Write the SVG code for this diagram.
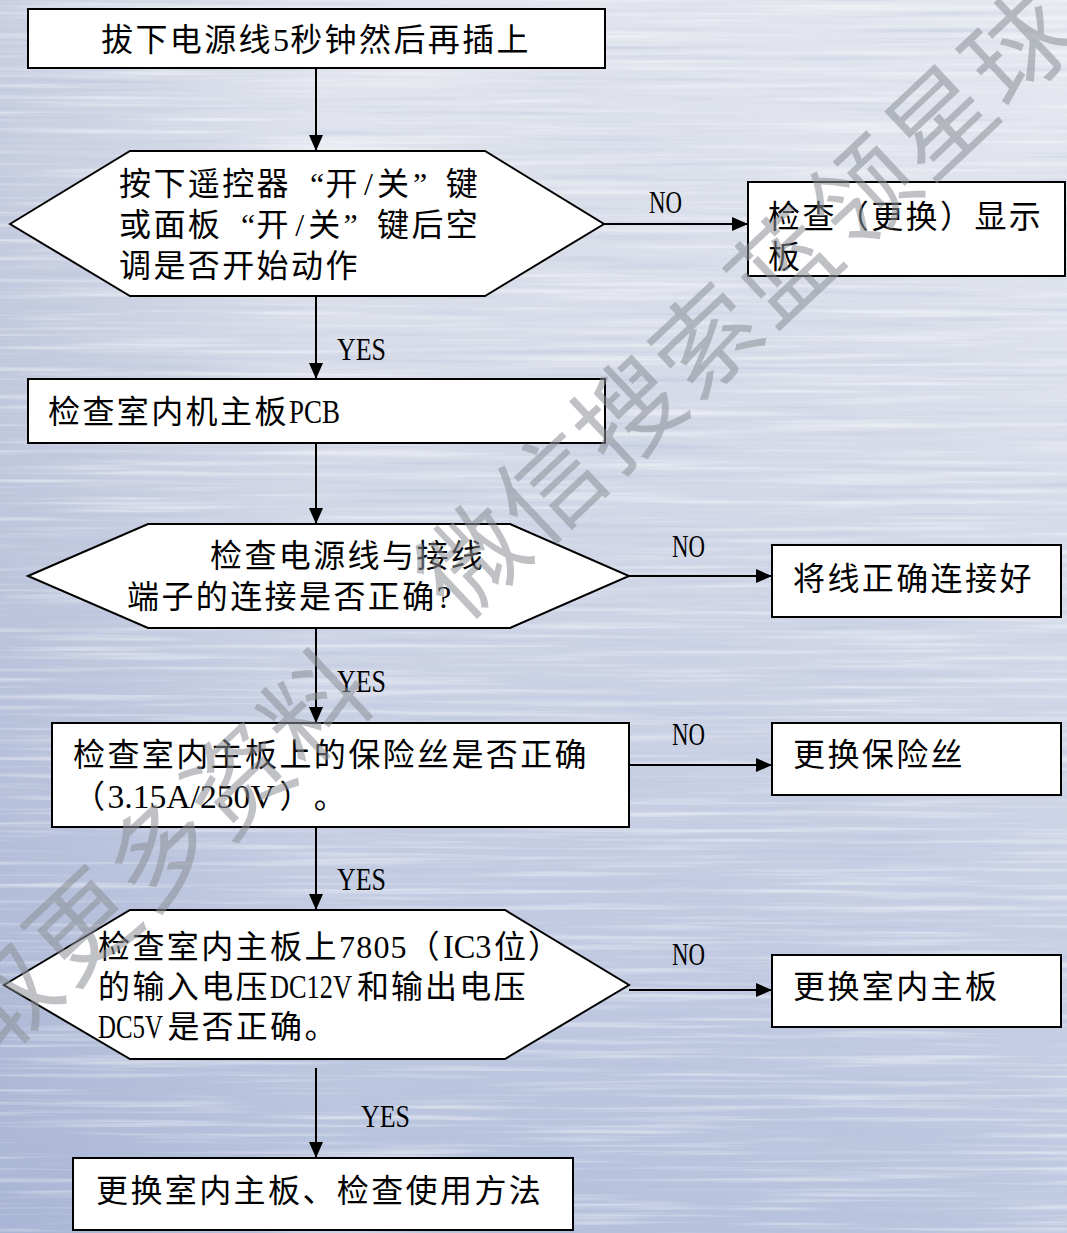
<svg xmlns="http://www.w3.org/2000/svg" width="1067" height="1233" viewBox="0 0 1067 1233">
<defs>
<linearGradient id="bg" x1="0" y1="0" x2="0" y2="1">
<stop offset="0" stop-color="#e3e6ee"/>
<stop offset="0.35" stop-color="#d6dbe8"/>
<stop offset="0.7" stop-color="#c5cde3"/>
<stop offset="1" stop-color="#b5c1dc"/>
</linearGradient>
<linearGradient id="side" x1="0" y1="0" x2="1" y2="0">
<stop offset="0" stop-color="#8796c0" stop-opacity="0.28"/>
<stop offset="0.3" stop-color="#8796c0" stop-opacity="0"/>
<stop offset="1" stop-color="#ffffff" stop-opacity="0.12"/>
</linearGradient>
<filter id="brush" x="0" y="0" width="1067" height="1233" filterUnits="userSpaceOnUse">
<feTurbulence type="fractalNoise" baseFrequency="0.004 0.18" numOctaves="3" seed="3" result="n"/>
<feColorMatrix in="n" type="matrix" values="0 0 0 0 1  0 0 0 0 1  0 0 0 0 1  3 0 0 0 -1.5" result="light"/>
<feColorMatrix in="n" type="matrix" values="0 0 0 0 0.45  0 0 0 0 0.52  0 0 0 0 0.72  -3 0 0 0 1.2" result="dark"/>
<feMerge><feMergeNode in="dark"/><feMergeNode in="light"/></feMerge>
</filter>
<marker id="arr" viewBox="0 0 16 14" refX="16" refY="7" markerWidth="16" markerHeight="14" orient="auto" markerUnits="userSpaceOnUse">
<path d="M0,0 L16,7 L0,14 Z" fill="#000"/>
</marker>
<style>
.box{fill:#fff;stroke:#000;stroke-width:2}
.t{font-family:"Liberation Serif","Noto Sans CJK SC",serif;font-size:32px;fill:#000}
.la{font-family:"Liberation Serif",serif;font-size:34px;fill:#000}
.lbl{font-family:"Liberation Serif",serif;font-size:32px;fill:#000}
.wire{stroke:#000;stroke-width:2;fill:none;marker-end:url(#arr)}
.wm{font-family:"Noto Sans CJK SC",sans-serif;font-size:104px;letter-spacing:3px;fill:#8c9097;opacity:0.55}
</style>
</defs>

<g id="background">
<rect width="1067" height="1233" fill="url(#bg)"/>
<rect width="1067" height="1233" fill="url(#side)"/>
<rect width="1067" height="1233" filter="url(#brush)" opacity="0.45"/>
</g>

<g id="connectors">
<line class="wire" x1="316" y1="68" x2="316" y2="151"/>
<line class="wire" x1="604" y1="224" x2="748" y2="224"/>
<line class="wire" x1="316" y1="296" x2="316" y2="379"/>
<line class="wire" x1="316" y1="443" x2="316" y2="524"/>
<line class="wire" x1="629" y1="576" x2="772" y2="576"/>
<line class="wire" x1="316" y1="628" x2="316" y2="723"/>
<line class="wire" x1="629" y1="765" x2="772" y2="765"/>
<line class="wire" x1="316" y1="827" x2="316" y2="910"/>
<line class="wire" x1="629" y1="990" x2="772" y2="990"/>
<line class="wire" x1="316" y1="1068" x2="316" y2="1158"/>
<text class="lbl" x="649" y="213" textLength="33" lengthAdjust="spacingAndGlyphs">NO</text>
<text class="lbl" x="337" y="360" textLength="49" lengthAdjust="spacingAndGlyphs">YES</text>
<text class="lbl" x="672" y="557" textLength="33" lengthAdjust="spacingAndGlyphs">NO</text>
<text class="lbl" x="337" y="692" textLength="49" lengthAdjust="spacingAndGlyphs">YES</text>
<text class="lbl" x="672" y="745" textLength="33" lengthAdjust="spacingAndGlyphs">NO</text>
<text class="lbl" x="337" y="890" textLength="49" lengthAdjust="spacingAndGlyphs">YES</text>
<text class="lbl" x="672" y="965" textLength="33" lengthAdjust="spacingAndGlyphs">NO</text>
<text class="lbl" x="361" y="1127" textLength="49" lengthAdjust="spacingAndGlyphs">YES</text>
</g>

<g id="n1">
<rect class="box" x="28" y="9" width="577" height="59"/>
<text class="t" y="51" x="101 135.4 169.8 204.2 238.6 273 290.2 324.6 359 393.4 427.8 462.2 496.6">拔下电源线5秒钟然后再插上</text>
</g>

<g id="n2">
<polygon class="box" points="10,224 130,151 485,151 604,224 485,296 130,296"/>
<text class="t" y="195" x="119 153.4 187.8 222.2 256.6 310 325.4 364 377 413 445.8">按下遥控器“开/关”键</text>
<text class="t" y="236" x="119 153.4 187.8 241 256.6 295.3 308.2 343.6 377 411.4 445.8">或面板“开/关”键后空</text>
<text class="t" y="277" x="119 153.4 187.8 222.2 256.6 291 325.4">调是否开始动作</text>
</g>

<g id="n3">
<rect class="box" x="748" y="182" width="317" height="94"/>
<text class="t" y="228" x="768 802.4 836.8 871.2 905.6 940 974.4 1008.8">检查（更换）显示</text>
<text class="t" x="768" y="268">板</text>
</g>

<g id="n4">
<rect class="box" x="28" y="379" width="577" height="64"/>
<text class="t" y="423" x="48 82.4 116.8 151.2 185.6 220 254.4">检查室内机主板</text>
<text class="la" transform="translate(289,423) scale(0.793,1)">PCB</text>
</g>

<g id="n5">
<polygon class="box" points="28,576 148,524 510,524 629,576 510,628 148,628"/>
<text class="t" y="567" x="210 244.4 278.8 313.2 347.6 382 416.4 450.8">检查电源线与接线</text>
<text class="t" y="608" x="127 161.4 195.8 230.2 264.6 299 333.4 367.8 402.2 437">端子的连接是否正确?</text>
</g>

<g id="n6">
<rect class="box" x="772" y="545" width="289" height="72"/>
<text class="t" y="590" x="793 827.4 861.8 896.2 930.6 965 999.4">将线正确连接好</text>
</g>

<g id="n7">
<rect class="box" x="52" y="723" width="577" height="104"/>
<text class="t" y="766" x="73 107.4 141.8 176.2 210.6 245 279.4 313.8 348.2 382.6 417 451.4 485.8 520.2 554.6">检查室内主板上的保险丝是否正确</text>
<text class="t" y="808" x="73">（</text>
<text class="la" transform="translate(107.4,808) scale(0.99,1)">3.15A/250V</text>
<text class="t" y="808" x="279.4 313.8">）。</text>
</g>

<g id="n8">
<rect class="box" x="772" y="723" width="289" height="72"/>
<text class="t" y="766" x="793 827.4 861.8 896.2 930.6">更换保险丝</text>
</g>

<g id="n9">
<polygon class="box" points="4,985 130,910 505,910 629,985 505,1059 130,1059"/>
<text class="t" y="958" x="98 132.4 166.8 201.2 235.6 270 304.4 339 356.2 373.4 390.6 407.6">检查室内主板上7805（</text>
<text class="la" transform="translate(443,958) scale(0.95,1)">IC3</text>
<text class="t" y="958" x="494 528">位）</text>
<text class="t" y="998" x="98 132.4 166.8 201.2 235.6">的输入电压</text>
<text class="la" transform="translate(270,998) scale(0.775,1)">DC12V</text>
<text class="t" y="998" x="357 391 425 459.2 493.6">和输出电压</text>
<text class="la" transform="translate(98,1038) scale(0.732,1)">DC5V</text>
<text class="t" y="1038" x="167.5 201.6 235.8 270 304.4">是否正确。</text>
</g>

<g id="n10">
<rect class="box" x="772" y="955" width="289" height="72"/>
<text class="t" y="998" x="793 827.4 861.8 896.2 930.6 965">更换室内主板</text>
</g>

<g id="n11">
<rect class="box" x="73" y="1158" width="500" height="72"/>
<text class="t" y="1202" x="96 130.4 164.8 199.2 233.6 268 302.4 336.8 371.2 405.6 440 474.4 508.8">更换室内主板、检查使用方法</text>
</g>

<g id="watermark">
<text class="wm" text-anchor="middle" transform="translate(474,560) rotate(-43.2)" y="37">获取更多资料　微信搜索蓝领星球</text>
</g>
</svg>
